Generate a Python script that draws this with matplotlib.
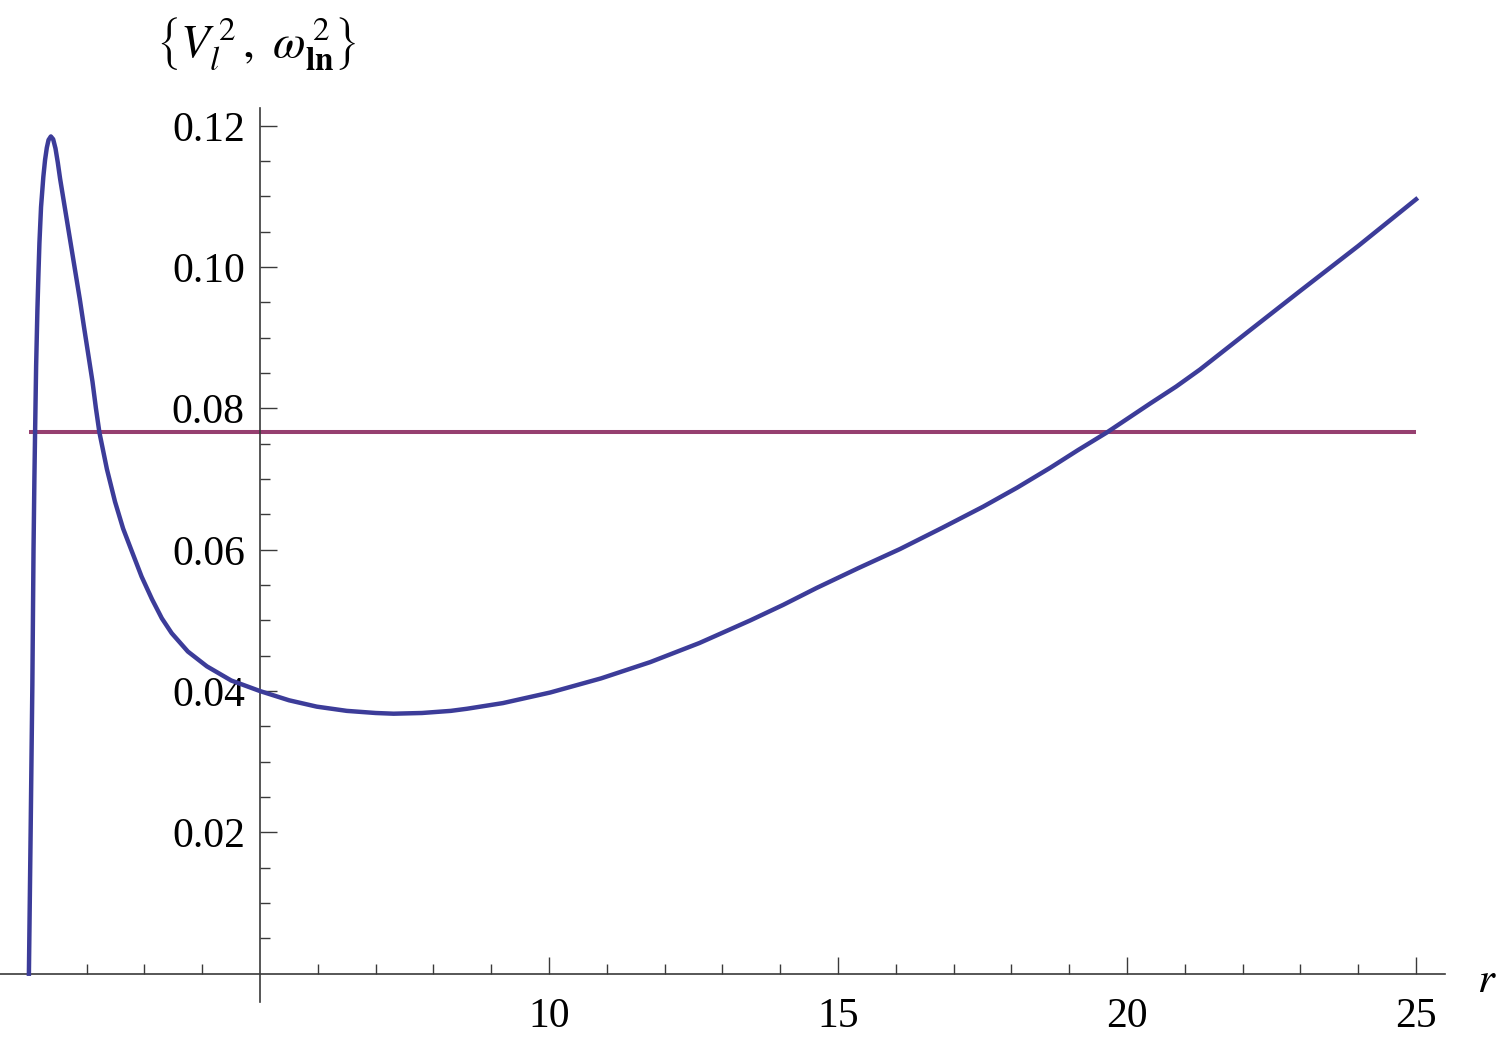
import matplotlib
matplotlib.use("Agg")
import matplotlib.pyplot as plt

# curve V_l^2(r)
r_vals = [1.00, 1.03, 1.06, 1.08, 1.095, 1.107, 1.125, 1.147, 1.165, 1.182,
          1.21, 1.25, 1.28, 1.31, 1.34, 1.38, 1.42, 1.46, 1.50, 1.54,
          1.60, 1.65, 1.72, 1.80, 1.88, 1.95, 2.03, 2.10, 2.16, 2.22,
          2.35, 2.49, 2.63, 2.78, 2.95, 3.13, 3.30, 3.47, 3.75, 4.08,
          4.50, 5.00, 5.50, 5.98, 6.50, 7.00, 7.31, 7.80, 8.30, 8.58,
          9.20, 10.02, 10.90, 11.75, 12.60, 13.48, 14.05, 14.63, 15.35,
          16.07, 16.80, 17.51, 18.10, 18.67, 19.15, 19.65, 20.40, 20.85,
          21.26, 22.10, 22.99, 24.00, 25.00]
v_vals = [0.0, 0.020, 0.041, 0.060, 0.070, 0.0766, 0.086, 0.0939, 0.0990,
          0.1034, 0.1085, 0.1128, 0.1152, 0.1169, 0.1180, 0.1185, 0.1181,
          0.1168, 0.1148, 0.1125, 0.1095, 0.1070, 0.1035, 0.0995, 0.0955,
          0.0917, 0.0875, 0.0838, 0.0800, 0.0766, 0.0714, 0.0668, 0.0630,
          0.0598, 0.0562, 0.0530, 0.0503, 0.0482, 0.0456, 0.0435, 0.0415,
          0.0400, 0.0387, 0.0378, 0.0372, 0.0369, 0.0368, 0.0369, 0.0372,
          0.0375, 0.0383, 0.0398, 0.0418, 0.0441, 0.0468, 0.0500, 0.0522,
          0.0546, 0.0574, 0.0601, 0.0631, 0.0661, 0.0688, 0.0716, 0.0741,
          0.0766, 0.0807, 0.0831, 0.0855, 0.0909, 0.0966, 0.1030, 0.1096]

# constant omega_ln^2 level
omega_r = [1.0, 25.0]
omega_sq = 0.0766

x_major = [10, 15, 20, 25]
x_minor = [1, 2, 3, 4, 6, 7, 8, 9, 11, 12, 13, 14, 16, 17, 18, 19,
           21, 22, 23, 24]
y_major = [0.02, 0.04, 0.06, 0.08, 0.10, 0.12]
y_labels = ["0.02", "0.04", "0.06", "0.08", "0.10", "0.12"]
y_minor = [0.005, 0.010, 0.015, 0.025, 0.030, 0.035, 0.045, 0.050, 0.055,
           0.065, 0.070, 0.075, 0.085, 0.090, 0.095, 0.105, 0.110, 0.115]

plt.rcParams["font.family"] = "serif"
plt.rcParams["font.serif"] = ["Liberation Serif", "DejaVu Serif"]
plt.rcParams["mathtext.fontset"] = "stix"

fig = plt.figure(figsize=(15, 10.42), dpi=100)
ax = fig.add_axes([0.0, 0.0384, 0.9633, 0.8578])

ax.plot(r_vals, v_vals, color="#3c3c99", linewidth=3.2, zorder=3,
        solid_joinstyle="round")
ax.plot(omega_r, [omega_sq] * len(omega_r), color="#963f70", linewidth=2.9,
        solid_capstyle="butt", zorder=2)

ax.set_xlim(0.5, 25.5)
ax.set_ylim(-0.004, 0.1225)

axis_col = "#3a3a3a"
for side in ("top", "right"):
    ax.spines[side].set_visible(False)
ax.spines["left"].set_position(("data", 5))
ax.spines["bottom"].set_position(("data", 0))
for side in ("left", "bottom"):
    ax.spines[side].set_color(axis_col)
    ax.spines[side].set_linewidth(1.2)

ax.set_xticks(x_major)
ax.set_xticks(x_minor, minor=True)
ax.set_yticks(y_major)
ax.set_yticklabels(y_labels)
ax.set_yticks(y_minor, minor=True)

ax.tick_params(axis="both", which="major", direction="in", length=12,
               width=1.0, color=axis_col, labelsize=30)
ax.tick_params(axis="both", which="minor", direction="in", length=7,
               width=1.0, color=axis_col)
ax.tick_params(axis="x", which="major", pad=17)
ax.tick_params(axis="y", which="major", pad=11)

fig.text(0.171, 0.958, r"$\left\{V_l^{\,2}\,,\ \omega_{\mathbf{ln}}^{\,2}\right\}$",
         fontsize=34, ha="center", va="center")
fig.text(0.991, 0.058, r"$r$", fontsize=31, ha="center", va="center")

fig.savefig("out.png", dpi=100)
plt.close(fig)
